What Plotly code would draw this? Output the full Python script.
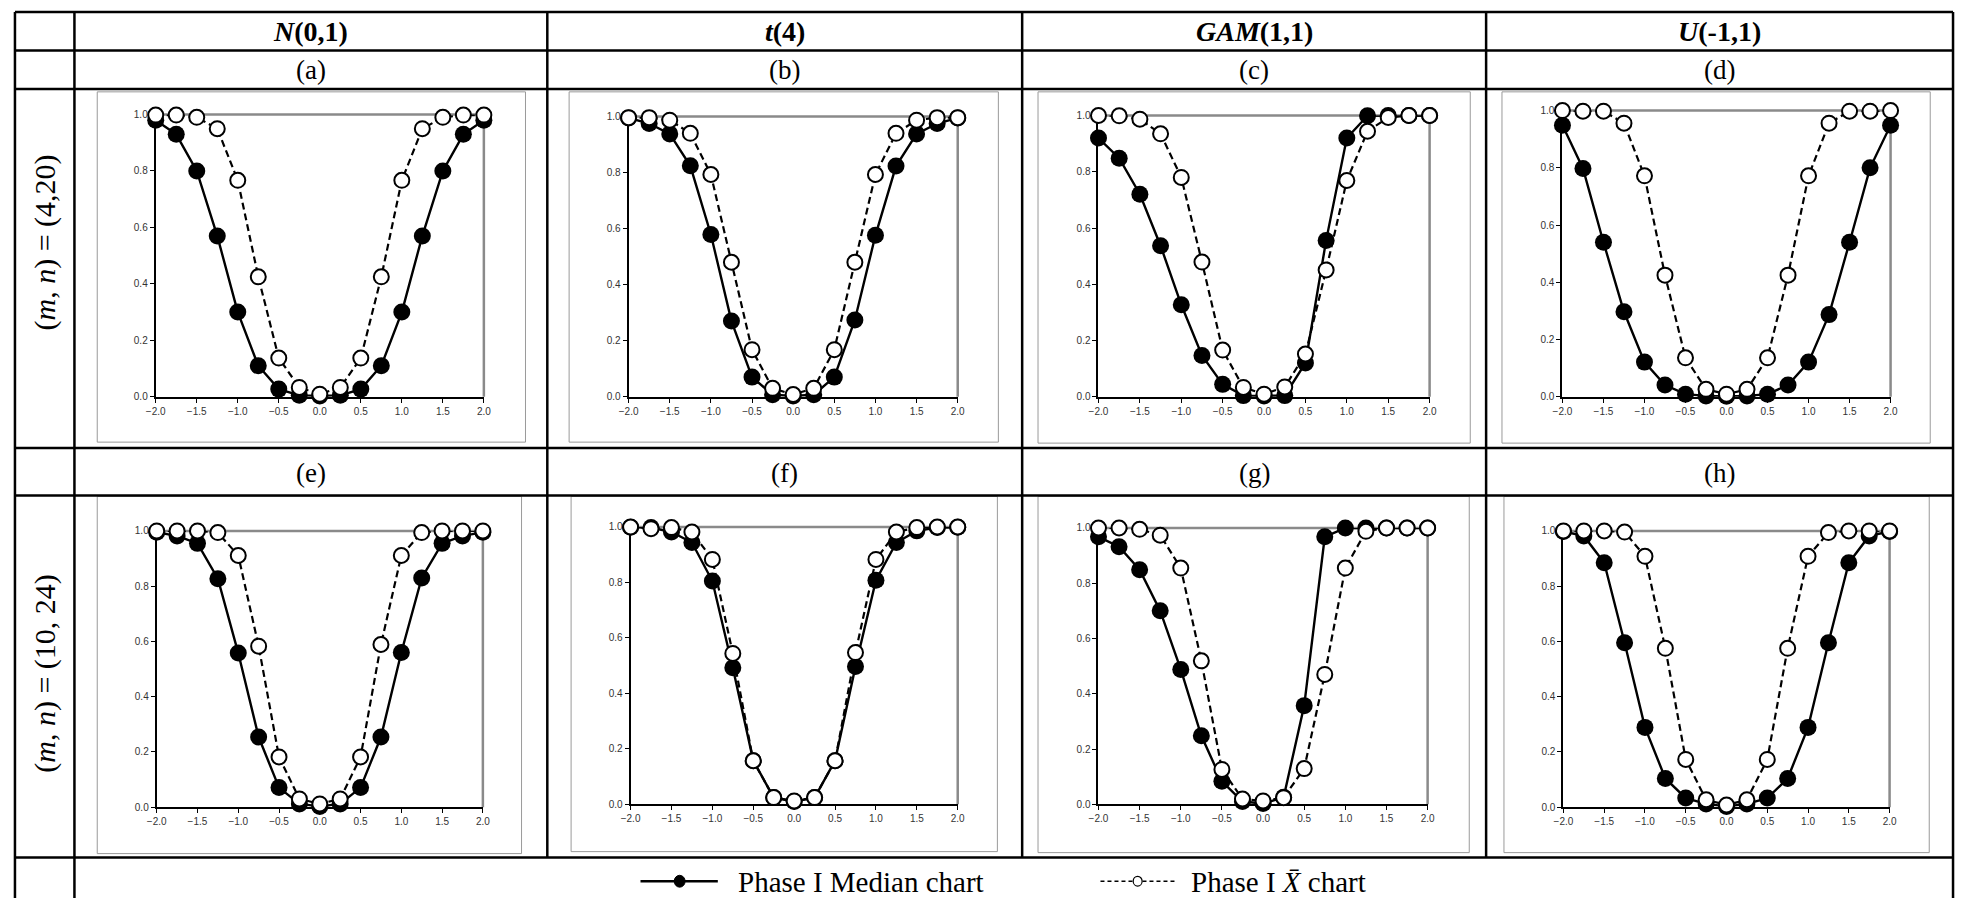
import plotly.graph_objects as go

W, H = 1964, 904

# Shift in the process mean (in standard-deviation units)
shift = [-2.0, -1.75, -1.5, -1.25, -1.0, -0.75, -0.5, -0.25, 0.0,
         0.25, 0.5, 0.75, 1.0, 1.25, 1.5, 1.75, 2.0]

x_ticks = [-2.0, -1.5, -1.0, -0.5, 0.0, 0.5, 1.0, 1.5, 2.0]
y_ticks = [0.0, 0.2, 0.4, 0.6, 0.8, 1.0]

# (m, n) = (4, 20)
median_n01_4_20 = [0.98, 0.93, 0.80, 0.57, 0.30, 0.11, 0.027, 0.005, 0.003,
                   0.005, 0.027, 0.11, 0.30, 0.57, 0.80, 0.93, 0.98]
xbar_n01_4_20 = [0.998, 0.998, 0.99, 0.95, 0.767, 0.425, 0.137, 0.033, 0.009,
                 0.033, 0.137, 0.425, 0.767, 0.95, 0.99, 0.998, 0.998]

median_t4_4_20 = [0.995, 0.975, 0.938, 0.824, 0.579, 0.27, 0.07, 0.007, 0.003,
                  0.007, 0.07, 0.274, 0.576, 0.823, 0.938, 0.975, 0.995]
xbar_t4_4_20 = [0.996, 0.996, 0.987, 0.94, 0.793, 0.48, 0.168, 0.03, 0.008,
                0.03, 0.168, 0.48, 0.793, 0.94, 0.987, 0.996, 0.996]

median_gam_4_20 = [0.92, 0.848, 0.72, 0.537, 0.327, 0.147, 0.044, 0.004, 0.003,
                   0.004, 0.12, 0.556, 0.92, 0.999, 1.0, 1.0, 1.0]
xbar_gam_4_20 = [1.0, 0.999, 0.987, 0.935, 0.78, 0.479, 0.166, 0.033, 0.009,
                 0.035, 0.152, 0.451, 0.769, 0.944, 0.993, 1.0, 1.0]

median_unif_4_20 = [0.949, 0.798, 0.54, 0.297, 0.121, 0.041, 0.009, 0.003, 0.002,
                    0.003, 0.009, 0.041, 0.121, 0.287, 0.54, 0.80, 0.949]
xbar_unif_4_20 = [1.0, 0.998, 0.998, 0.956, 0.772, 0.425, 0.136, 0.026, 0.009,
                  0.026, 0.136, 0.425, 0.772, 0.956, 0.998, 0.998, 1.0]

# (m, n) = (10, 24)
median_n01_10_24 = [0.995, 0.982, 0.955, 0.827, 0.558, 0.254, 0.071, 0.012, 0.003,
                    0.012, 0.071, 0.254, 0.56, 0.83, 0.955, 0.982, 0.995]
xbar_n01_10_24 = [1.0, 1.0, 1.0, 0.994, 0.911, 0.583, 0.182, 0.03, 0.012,
                  0.03, 0.182, 0.589, 0.911, 0.994, 1.0, 1.0, 1.0]

median_t4_10_24 = [0.999, 0.998, 0.982, 0.944, 0.805, 0.492, 0.157, 0.024, 0.01,
                   0.024, 0.157, 0.497, 0.808, 0.944, 0.986, 0.998, 0.999]
xbar_t4_10_24 = [1.0, 0.994, 0.998, 0.982, 0.883, 0.544, 0.157, 0.024, 0.012,
                 0.024, 0.157, 0.547, 0.883, 0.982, 0.998, 1.0, 1.0]

median_gam_10_24 = [0.968, 0.932, 0.849, 0.70, 0.488, 0.248, 0.083, 0.01, 0.003,
                    0.025, 0.357, 0.968, 1.0, 1.0, 1.0, 1.0, 1.0]
xbar_gam_10_24 = [1.0, 1.0, 0.995, 0.974, 0.855, 0.519, 0.126, 0.019, 0.012,
                  0.024, 0.129, 0.47, 0.855, 0.988, 1.0, 1.0, 1.0]

median_unif_10_24 = [0.998, 0.982, 0.885, 0.595, 0.289, 0.104, 0.033, 0.012, 0.003,
                     0.012, 0.033, 0.104, 0.289, 0.595, 0.885, 0.982, 0.998]
xbar_unif_10_24 = [1.0, 1.0, 1.0, 0.996, 0.908, 0.575, 0.173, 0.027, 0.008,
                   0.027, 0.173, 0.575, 0.908, 0.994, 1.0, 1.0, 1.0]

col_titles = ["<b><i>N</i>(0,1)</b>", "<b><i>t</i>(4)</b>",
              "<b><i>GAM</i>(1,1)</b>", "<b><i>U</i>(-1,1)</b>"]
panel_tags_top = ["(a)", "(b)", "(c)", "(d)"]
panel_tags_bottom = ["(e)", "(f)", "(g)", "(h)"]
row_titles = ["(<i>m</i>, <i>n</i>) = (4,20)", "(<i>m</i>, <i>n</i>) = (10, 24)"]
legend_labels = ["Phase I Median chart", "Phase I <i>X\u0304</i> chart"]

series = [
    (median_n01_4_20, xbar_n01_4_20), (median_t4_4_20, xbar_t4_4_20),
    (median_gam_4_20, xbar_gam_4_20), (median_unif_4_20, xbar_unif_4_20),
    (median_n01_10_24, xbar_n01_10_24), (median_t4_10_24, xbar_t4_10_24),
    (median_gam_10_24, xbar_gam_10_24), (median_unif_10_24, xbar_unif_10_24),
]

# Pixel geometry of each panel: plot area (left, right, top, bottom) and outer frame
plot_boxes = [
    (147, 478, 110, 396), (624, 956, 112, 396), (1098, 1432, 111, 396), (1566, 1897, 106, 396),
    (148, 477, 532, 812), (626, 956, 528, 809), (1098, 1430, 529, 809), (1567, 1896, 532, 812),
]
frame_boxes = [
    (88, 520, 87, 442), (564, 997, 87, 442), (1037, 1473, 87, 443), (1505, 1937, 87, 443),
    (88, 516, 497, 859), (566, 996, 497, 857), (1037, 1472, 497, 858), (1507, 1936, 497, 858),
]

# Table grid
col_edges = [5, 65, 542, 1021, 1489, 1960]
row_edges = [6, 45, 84, 448, 496, 863]


def px(x):
    return x / W


def py(y):
    return 1 - y / H


SERIF = "Liberation Serif"
SANS = "Liberation Sans"


def label(text, x, y, size, xanchor="center", angle=0):
    return dict(text=text, x=px(x), y=py(y), xref="paper", yref="paper",
                xanchor=xanchor, yanchor="middle", showarrow=False, textangle=angle,
                font=dict(family=SERIF, size=size, color="black"))


fig = go.Figure()
layout = dict(
    width=W, height=H, margin=dict(l=0, r=0, t=0, b=0),
    paper_bgcolor="white", plot_bgcolor="white", showlegend=False,
)
shapes = []
annotations = []

for i, ((med, xbar), (l, r, t, b), (fl, fr, ft, fb)) in enumerate(
        zip(series, plot_boxes, frame_boxes), start=1):
    sfx = "" if i == 1 else str(i)
    xa, ya = "x" + sfx, "y" + sfx
    fig.add_trace(go.Scatter(
        x=shift, y=med, xaxis=xa, yaxis=ya, mode="lines+markers",
        line=dict(color="black", width=2.4),
        marker=dict(size=17, color="black", line=dict(width=0)),
        cliponaxis=False, hoverinfo="skip"))
    fig.add_trace(go.Scatter(
        x=shift, y=xbar, xaxis=xa, yaxis=ya, mode="lines+markers",
        line=dict(color="black", width=2.2, dash="7px,4px"),
        marker=dict(size=15, color="white", line=dict(color="black", width=2)),
        cliponaxis=False, hoverinfo="skip"))
    axis_common = dict(
        showgrid=False, zeroline=False, showline=True, linecolor="black",
        linewidth=2, ticks="outside", ticklen=4, tickwidth=1, tickcolor="black",
        tickfont=dict(family=SANS, size=10, color="#333333"),
        tickformat=".1f", layer="below traces", fixedrange=True,
    )
    layout["xaxis" + sfx] = dict(axis_common, domain=[px(l), px(r)], anchor=ya,
                                 range=[-2.0, 2.0], tickvals=x_ticks)
    layout["yaxis" + sfx] = dict(axis_common, domain=[py(b), py(t)], anchor=xa,
                                 range=[0.0, 1.0], tickvals=y_ticks)
    # grey top and right edges of the plot area
    shapes.append(dict(type="line", xref=xa + " domain", yref=ya + " domain",
                       x0=0, x1=1, y0=1, y1=1, layer="below",
                       line=dict(color="#8a8a8a", width=2.5)))
    shapes.append(dict(type="line", xref=xa + " domain", yref=ya + " domain",
                       x0=1, x1=1, y0=0, y1=1, layer="below",
                       line=dict(color="#8a8a8a", width=2.5)))
    # thin chart-area frame
    shapes.append(dict(type="rect", xref="paper", yref="paper",
                       x0=px(fl), x1=px(fr), y0=py(fb), y1=py(ft), layer="below",
                       line=dict(color="#9a9a9a", width=1)))

# Table rules
for y in row_edges:
    shapes.append(dict(type="line", xref="paper", yref="paper",
                       x0=px(col_edges[0]), x1=px(col_edges[-1]), y0=py(y), y1=py(y),
                       line=dict(color="black", width=2.5)))
for x in col_edges:
    bottom = H if x in (col_edges[0], col_edges[1], col_edges[-1]) else row_edges[-1]
    shapes.append(dict(type="line", xref="paper", yref="paper",
                       x0=px(x), x1=px(x), y0=py(row_edges[0]), y1=py(bottom),
                       line=dict(color="black", width=2.5)))

# Column headings and panel tags
for j in range(4):
    cx = (col_edges[j + 1] + col_edges[j + 2]) / 2
    annotations.append(label(col_titles[j], cx, 26, 28))
    annotations.append(label(panel_tags_top[j], cx, 65, 27))
    annotations.append(label(panel_tags_bottom[j], cx, 473, 27))

# Row headings
for txt, cy in zip(row_titles, [240, 676]):
    annotations.append(label(txt, 35, cy, 30, angle=-90))

# Legend keys
ly = 887
shapes.append(dict(type="line", xref="paper", yref="paper", x0=px(636), x1=px(714),
                   y0=py(ly), y1=py(ly), line=dict(color="black", width=2.5)))
shapes.append(dict(type="circle", xref="paper", yref="paper", x0=px(670), x1=px(681),
                   y0=py(ly + 6), y1=py(ly - 6), fillcolor="black",
                   line=dict(color="black", width=1)))
shapes.append(dict(type="line", xref="paper", yref="paper", x0=px(1100), x1=px(1177),
                   y0=py(ly), y1=py(ly), line=dict(color="black", width=1.5, dash="4px,3px")))
shapes.append(dict(type="circle", xref="paper", yref="paper", x0=px(1133), x1=px(1142),
                   y0=py(ly + 5), y1=py(ly - 5), fillcolor="white",
                   line=dict(color="black", width=1.2)))
annotations.append(label(legend_labels[0], 732, ly + 1, 29, xanchor="left"))
annotations.append(label(legend_labels[1], 1189, ly + 1, 29, xanchor="left"))

layout["shapes"] = shapes
layout["annotations"] = annotations
fig.update_layout(**layout)
fig.write_html("out.html", config={"displayModeBar": False},
               post_script="document.body.style.margin='0';")
